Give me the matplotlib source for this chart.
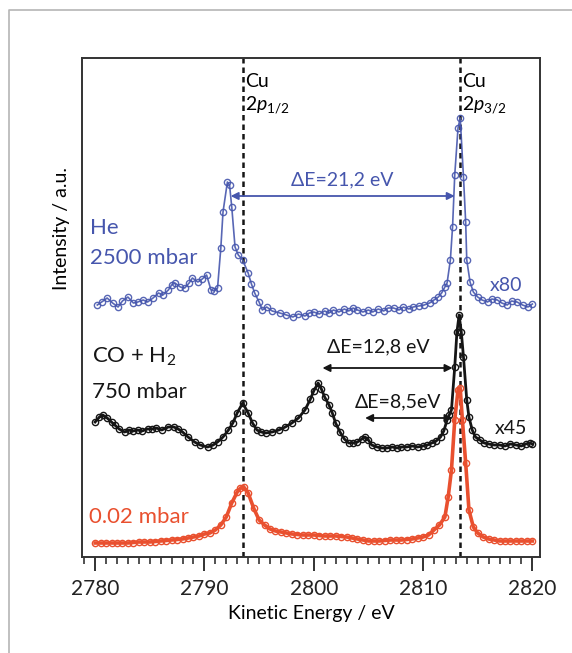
import matplotlib
matplotlib.use("Agg")
import matplotlib.pyplot as plt
from matplotlib.lines import Line2D
from matplotlib.ticker import MultipleLocator

plt.rcParams['font.family'] = ['Lato', 'DejaVu Sans']
plt.rcParams['mathtext.fontset'] = 'custom'
plt.rcParams['mathtext.rm'] = 'Lato'
plt.rcParams['mathtext.it'] = 'Lato:italic'

BLUE = '#4656ad'
RED = '#e9502f'
BLACK = '#151515'

# He 2500 mbar (x80)
he_energy = [2780.2, 2780.6, 2781.1, 2781.6, 2782.1, 2782.5, 2783.0, 2783.5, 2783.9, 2784.4,
             2784.8, 2785.3, 2785.8, 2786.2, 2786.7, 2787.0, 2787.3, 2787.8, 2788.2, 2788.6,
             2788.9, 2789.4, 2789.8, 2790.2, 2790.6, 2790.9, 2791.2, 2791.5, 2791.7, 2792.1,
             2792.3, 2792.5, 2792.8, 2793.1, 2793.5, 2794.0, 2794.3, 2794.6, 2795.0, 2795.3,
             2795.7, 2796.2, 2796.9, 2797.5, 2798.1, 2798.6, 2799.2, 2799.6, 2800.0, 2800.5,
             2801.0, 2801.4, 2801.8, 2802.3, 2802.8, 2803.2, 2803.6, 2804.0, 2804.5, 2805.0,
             2805.4, 2805.9, 2806.4, 2806.8, 2807.3, 2807.8, 2808.2, 2808.7, 2809.1, 2809.6,
             2810.1, 2810.6, 2811.0, 2811.4, 2811.7, 2812.0, 2812.2, 2812.5, 2812.7, 2812.9,
             2813.2, 2813.4, 2813.7, 2813.9, 2814.0, 2814.3, 2814.6, 2815.0, 2815.4, 2815.9,
             2816.3, 2816.8, 2817.2, 2817.7, 2818.1, 2818.6, 2819.1, 2819.6, 2820.0]
he_int = [252, 255, 259, 254, 250, 256, 260, 254, 255, 257,
          255, 259, 264, 262, 267, 272, 274, 270, 269, 274,
          279, 275, 278, 282, 267, 266, 269, 309, 345, 375,
          372, 350, 310, 302, 297, 284, 273, 264, 255, 247,
          250, 246, 244, 242, 240, 243, 241, 244, 245, 243,
          246, 244, 247, 245, 248, 246, 249, 247, 245, 247,
          245, 248, 246, 249, 249, 247, 250, 248, 250, 251,
          252, 254, 257, 260, 264, 270, 274, 297, 330, 382,
          429, 439, 380, 335, 297, 275, 265, 260, 257, 255,
          258, 257, 254, 252, 256, 255, 252, 250, 253]

# CO + H2 750 mbar (x45)
co_energy = [2780.0, 2780.4, 2780.7, 2781.1, 2781.5, 2781.8, 2782.2, 2782.7, 2783.1, 2783.5,
             2783.9, 2784.3, 2784.8, 2785.2, 2785.6, 2786.1, 2786.7, 2787.2, 2787.6, 2788.0,
             2788.5, 2789.1, 2789.6, 2790.3, 2790.8, 2791.2, 2791.7, 2792.2, 2792.6, 2793.0,
             2793.5, 2794.0, 2794.4, 2794.8, 2795.2, 2795.6, 2796.2, 2796.8, 2797.4, 2798.0,
             2798.6, 2799.2, 2799.7, 2800.0, 2800.4, 2800.7, 2801.0, 2801.4, 2801.7, 2802.0,
             2802.4, 2802.8, 2803.2, 2803.6, 2804.0, 2804.4, 2804.7, 2805.0, 2805.3, 2805.8,
             2806.2, 2806.7, 2807.2, 2807.6, 2808.0, 2808.5, 2809.0, 2809.5, 2810.0, 2810.4,
             2810.8, 2811.2, 2811.6, 2811.9, 2812.2, 2812.4, 2812.6, 2812.9, 2813.1, 2813.3,
             2813.5, 2813.7, 2814.0, 2814.2, 2814.5, 2814.8, 2815.2, 2815.6, 2816.0, 2816.5,
             2817.0, 2817.5, 2818.0, 2818.5, 2819.0, 2819.4, 2819.8, 2820.0]
co_int = [135, 140, 142, 139, 135, 132, 128, 125, 127, 126,
          127, 126, 128, 128, 129, 127, 130, 130, 128, 125,
          120, 115, 112, 110, 112, 115, 120, 127, 134, 144,
          154, 144, 134, 127, 125, 124, 125, 127, 130, 134,
          139, 147, 158, 166, 174, 168, 160, 152, 144, 134,
          125, 118, 114, 114, 115, 118, 120, 117, 112, 110,
          109, 109, 110, 109, 110, 110, 111, 110, 111, 112,
          114, 116, 120, 126, 137, 142, 147, 190, 225, 242,
          225, 200, 157, 140, 127, 120, 117, 114, 113, 112,
          112, 111, 113, 112, 111, 113, 114, 113]

# 0.02 mbar
uhv_energy = [2780.0, 2780.5, 2781.0, 2781.5, 2782.0, 2782.5, 2783.0, 2783.5, 2784.0, 2784.5,
              2785.0, 2785.5, 2786.0, 2786.5, 2787.0, 2787.5, 2788.0, 2788.5, 2789.0, 2789.5,
              2790.0, 2790.5, 2791.0, 2791.5, 2792.0, 2792.5, 2793.0, 2793.3, 2793.6, 2794.0,
              2794.5, 2795.0, 2795.5, 2796.0, 2796.5, 2797.0, 2797.5, 2798.0, 2798.5, 2799.0,
              2799.5, 2800.0, 2800.5, 2801.0, 2801.5, 2802.0, 2802.5, 2803.0, 2803.5, 2804.0,
              2804.5, 2805.0, 2805.5, 2806.0, 2806.5, 2807.0, 2807.5, 2808.0, 2808.5, 2809.0,
              2809.5, 2810.0, 2810.5, 2811.0, 2811.5, 2812.0, 2812.3, 2812.6, 2812.9, 2813.2,
              2813.4, 2813.6, 2813.9, 2814.2, 2814.6, 2815.0, 2815.5, 2816.0, 2816.5, 2817.0,
              2817.5, 2818.0, 2818.5, 2819.0, 2819.5, 2820.0]
uhv_int = [14, 14, 14, 14, 14, 14, 14, 14.5, 15, 15,
           15, 15.5, 16, 16.5, 17, 17.5, 18, 19, 20, 21,
           23, 24, 27, 32, 40, 54, 65, 69, 70, 64,
           49, 37, 32, 28, 26, 25, 24, 23, 22.5, 22,
           22, 22, 21.5, 21, 21, 21, 20.5, 20, 19, 18,
           17, 16, 16, 16, 16.5, 17, 17, 17, 17.5, 18,
           19, 20, 22, 27, 32, 40, 60, 87, 137, 167,
           169, 137, 94, 47, 30, 24, 20, 18, 17, 16,
           16, 16, 16, 16, 16, 16]

cu_peaks = [2793.5, 2813.4]
x_ticks = [2780, 2790, 2800, 2810, 2820]

fig = plt.figure(figsize=(5.72, 6.53), dpi=100)
ax = fig.add_axes([82 / 572, 1 - 557 / 653, 458 / 572, 499 / 653])

# light grey outer frame of the figure panel
fig.add_artist(Line2D([9 / 572, 9 / 572, 1.0], [0.0, 1 - 10 / 653, 1 - 10 / 653],
                      transform=fig.transFigure, color='#b5b5b5', lw=1.2))

for e in cu_peaks:
    ax.axvline(e, color=BLACK, ls=(0, (2.2, 1.6)), lw=1.8, zorder=1)

mk = dict(marker='o', markerfacecolor='none', markersize=4.5, markeredgewidth=1.0)
ax.plot(he_energy, he_int, color=BLUE, lw=1.2, markeredgecolor=BLUE, alpha=0.9, **mk)
ax.plot(co_energy, co_int, color=BLACK, lw=2.0, markeredgecolor=BLACK, **mk)
ax.plot(uhv_energy, uhv_int, color=RED, lw=2.6, markeredgecolor=RED, **mk)

# text annotations
ax.text(2793.7, 476, 'Cu', fontsize=14, va='center', ha='left')
ax.text(2793.7, 452, r'2$\mathit{p}_{1/2}$', fontsize=14, va='center', ha='left')
ax.text(2813.6, 476, 'Cu', fontsize=14, va='center', ha='left')
ax.text(2813.6, 452, r'2$\mathit{p}_{3/2}$', fontsize=14, va='center', ha='left')

ax.text(2779.5, 329, 'He', fontsize=16, color=BLUE, va='center', ha='left')
ax.text(2779.5, 299, '2500 mbar', fontsize=16, color=BLUE, va='center', ha='left')
ax.text(2817.6, 272, 'x80', fontsize=14, color=BLUE, va='center', ha='center')
ax.text(2802.6, 377, 'ΔE=21,2 eV', fontsize=14, color=BLUE, va='center', ha='center')

ax.text(2779.7, 200, 'CO + H$_2$', fontsize=16, color=BLACK, va='center', ha='left')
ax.text(2779.7, 165, '750 mbar', fontsize=16, color=BLACK, va='center', ha='left')
ax.text(2805.9, 210, 'ΔE=12,8 eV', fontsize=14, color=BLACK, va='center', ha='center')
ax.text(2807.7, 155, 'ΔE=8,5eV', fontsize=14, color=BLACK, va='center', ha='center')
ax.text(2818.0, 129, 'x45', fontsize=14, color=BLACK, va='center', ha='center')

ax.text(2779.4, 40, '0.02 mbar', fontsize=16, color=RED, va='center', ha='left')

arrow = dict(arrowstyle='<|-|>', lw=1.3, mutation_scale=11, shrinkA=0, shrinkB=0)
ax.annotate('', xy=(2792.4, 361), xytext=(2812.9, 361), arrowprops=dict(color=BLUE, **arrow))
ax.annotate('', xy=(2800.8, 189), xytext=(2812.7, 189), arrowprops=dict(color=BLACK, **arrow))
ax.annotate('', xy=(2804.7, 139), xytext=(2812.7, 139), arrowprops=dict(color=BLACK, **arrow))

ax.set_xlim(2778.8, 2820.7)
ax.set_ylim(0, 499)
ax.set_xticks(x_ticks)
ax.xaxis.set_minor_locator(MultipleLocator(1))
ax.set_yticks([])
ax.tick_params(axis='x', which='major', direction='out', length=10, width=1.3,
               labelsize=15, pad=6, colors='#222222')
ax.tick_params(axis='x', which='minor', direction='out', length=5, width=1.1, colors='#222222')
for s in ax.spines.values():
    s.set_linewidth(1.4)
    s.set_color('#333333')

ax.set_xlabel('Kinetic Energy / eV', fontsize=14, labelpad=4)
fig.text(62 / 572, 1 - 228 / 653, 'Intensity / a.u.', fontsize=14, rotation=90,
         ha='center', va='center')

fig.savefig('out.png', dpi=100)
